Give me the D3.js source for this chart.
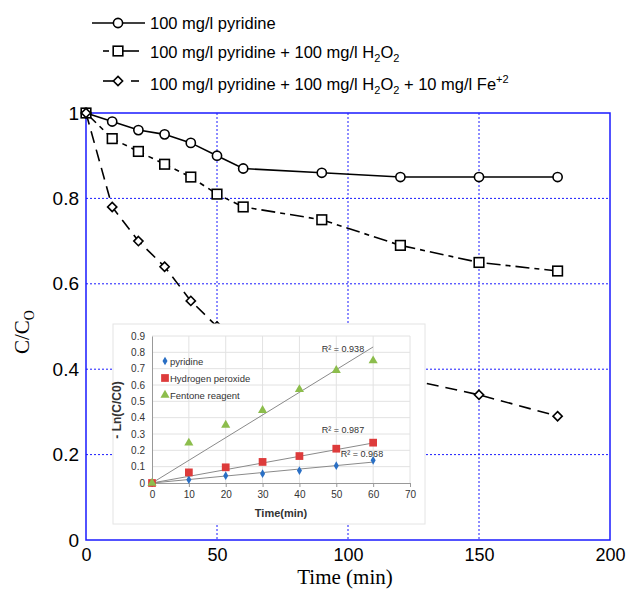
<!DOCTYPE html>
<html>
<head>
<meta charset="utf-8">
<script src="https://cdn.jsdelivr.net/npm/d3@7"></script>
<style>
  body { margin: 0; background: #fff; }
  svg { display: block; }
</style>
</head>
<body>
<div id="chart"></div>
<script>
// main chart data (C/Co vs time)
const times = [0, 10, 20, 30, 40, 50, 60, 90, 120, 150, 180];
const pyridine = [1, 0.98, 0.96, 0.95, 0.93, 0.90, 0.87, 0.86, 0.85, 0.85, 0.85];
const peroxide = [1, 0.94, 0.91, 0.88, 0.85, 0.81, 0.78, 0.75, 0.69, 0.65, 0.63];
const fenton = [1, 0.78, 0.70, 0.64, 0.56, 0.50, 0.47, 0.42, 0.38, 0.34, 0.29];
const xTicks = [0, 50, 100, 150, 200];
const yTicks = [0, 0.2, 0.4, 0.6, 0.8, 1];

// inset data (-ln(C/C0) vs time)
const insetTimes = [0, 10, 20, 30, 40, 50, 60];
const insetPyridine = [0, 0.02, 0.045, 0.057, 0.076, 0.106, 0.139];
const insetPeroxide = [0, 0.065, 0.096, 0.129, 0.165, 0.21, 0.247];
const insetFenton = [0, 0.245, 0.355, 0.445, 0.573, 0.69, 0.749];
const trendEnds = [0.128, 0.245, 0.833];   // fitted lines at t = 60
const r2Labels = ['R² = 0.968', 'R² = 0.987', 'R² = 0.938'];
const insetXTicks = [0, 10, 20, 30, 40, 50, 60, 70];
const insetYTicks = [0, 0.1, 0.2, 0.3, 0.4, 0.5, 0.6, 0.7, 0.8, 0.9];

const width = 631, height = 589;
const blue = '#1a1aff';

const svg = d3.select('#chart').append('svg')
  .attr('width', width)
  .attr('height', height);

const x = d3.scaleLinear().domain([0, 200]).range([86, 610]);
const y = d3.scaleLinear().domain([0, 1]).range([540, 113]);

// grid
svg.append('g').selectAll('line')
  .data(xTicks.slice(1, -1))
  .enter().append('line')
  .attr('x1', d => x(d)).attr('x2', d => x(d))
  .attr('y1', y(1)).attr('y2', y(0))
  .attr('stroke', blue).attr('stroke-width', 1)
  .attr('stroke-dasharray', '2,2');

svg.append('g').selectAll('line')
  .data(yTicks.slice(1, -1))
  .enter().append('line')
  .attr('x1', x(0)).attr('x2', x(200))
  .attr('y1', d => y(d)).attr('y2', d => y(d))
  .attr('stroke', blue).attr('stroke-width', 1)
  .attr('stroke-dasharray', '2,2');

svg.append('rect')
  .attr('x', x(0)).attr('y', y(1))
  .attr('width', x(200) - x(0)).attr('height', y(0) - y(1))
  .attr('fill', 'none').attr('stroke', blue).attr('stroke-width', 1.5);

// axes labels
const xAxis = svg.append('g')
  .attr('transform', `translate(0,${y(0)})`)
  .call(d3.axisBottom(x).tickValues(xTicks).tickSize(0).tickPadding(8).tickFormat(d3.format('d')));
xAxis.select('.domain').remove();
xAxis.selectAll('text')
  .attr('font-family', 'Liberation Sans, Arial, sans-serif')
  .attr('font-size', 18).attr('fill', '#000');

const yAxis = svg.append('g')
  .attr('transform', `translate(${x(0) - 7},0)`)
  .call(d3.axisLeft(y).tickValues(yTicks).tickSize(0).tickPadding(0).tickFormat(d => d3.format('')(+d.toFixed(1))));
yAxis.select('.domain').remove();
yAxis.selectAll('text')
  .attr('font-family', 'Liberation Sans, Arial, sans-serif')
  .attr('font-size', 19).attr('fill', '#000');

svg.append('text')
  .attr('x', 345).attr('y', 584)
  .attr('text-anchor', 'middle')
  .attr('font-family', 'Liberation Serif, Times New Roman, serif')
  .attr('font-size', 21)
  .text('Time (min)');

const yTitle = svg.append('text')
  .attr('transform', 'translate(29,332) rotate(-90)')
  .attr('text-anchor', 'middle')
  .attr('font-family', 'Liberation Serif, Times New Roman, serif')
  .attr('font-size', 21);
yTitle.append('tspan').text('C/C');
yTitle.append('tspan').attr('font-size', 14).attr('dy', 5).text('O');

// series
const series = [
  { values: pyridine, dash: null, marker: 'circle' },
  { values: peroxide, dash: '14,5,5,5', marker: 'square' },
  { values: fenton, dash: '12,7', marker: 'diamond' }
];

const line = d3.line().x(d => x(d[0])).y(d => y(d[1]));

function drawMarker(g, type, cx, cy, s) {
  if (type === 'circle') {
    g.append('circle').attr('cx', cx).attr('cy', cy).attr('r', 4.6 * s)
      .attr('fill', '#fff').attr('stroke', '#000').attr('stroke-width', 1.6);
  } else if (type === 'square') {
    const h = 4.8 * s;
    g.append('rect').attr('x', cx - h).attr('y', cy - h).attr('width', 2 * h).attr('height', 2 * h)
      .attr('fill', '#fff').attr('stroke', '#000').attr('stroke-width', 1.6);
  } else {
    const h = 4.6 * s;
    g.append('path').attr('d', `M${cx},${cy - h}L${cx + h},${cy}L${cx},${cy + h}L${cx - h},${cy}Z`)
      .attr('fill', '#fff').attr('stroke', '#000').attr('stroke-width', 1.6);
  }
}

series.forEach(s => {
  const pts = times.map((t, i) => [t, s.values[i]]);
  svg.append('path')
    .attr('d', line(pts))
    .attr('fill', 'none').attr('stroke', '#000').attr('stroke-width', 1.6)
    .attr('stroke-dasharray', s.dash);
  const g = svg.append('g');
  pts.forEach(p => drawMarker(g, s.marker, x(p[0]), y(p[1]), 1));
});

// legend
const legendItems = [
  { y: 23, marker: 'circle', segs: [[92, 145]] },
  { y: 51, marker: 'square', segs: [[103, 109], [122, 139]] },
  { y: 81, marker: 'diamond', segs: [[103, 113], [131, 139]] }
];
legendItems.forEach(item => {
  item.segs.forEach(sg => {
    svg.append('line').attr('x1', sg[0]).attr('x2', sg[1])
      .attr('y1', item.y).attr('y2', item.y)
      .attr('stroke', '#000').attr('stroke-width', 1.6);
  });
  drawMarker(svg, item.marker, 118, item.y, 1);
});

const legFont = 'Liberation Sans, Arial, sans-serif';
function legendText(yPos) {
  return svg.append('text').attr('x', 150).attr('y', yPos)
    .attr('font-family', legFont).attr('font-size', 16.5);
}
legendText(29).text('100 mg/l pyridine');
let t2 = legendText(58);
t2.append('tspan').text('100 mg/l pyridine + 100 mg/l H');
t2.append('tspan').attr('font-size', 11).attr('dy', 4).text('2');
t2.append('tspan').attr('dy', -4).text('O');
t2.append('tspan').attr('font-size', 11).attr('dy', 4).text('2');
let t3 = legendText(90);
t3.append('tspan').text('100 mg/l pyridine + 100 mg/l H');
t3.append('tspan').attr('font-size', 11).attr('dy', 4).text('2');
t3.append('tspan').attr('dy', -4).text('O');
t3.append('tspan').attr('font-size', 11).attr('dy', 4).text('2');
t3.append('tspan').attr('dy', -4).text(' + 10 mg/l Fe');
t3.append('tspan').attr('font-size', 11).attr('dy', -7).text('+2');

// inset
const inset = svg.append('g');
inset.append('rect')
  .attr('x', 113).attr('y', 324).attr('width', 312).attr('height', 200)
  .attr('fill', '#fff').attr('stroke', '#e4e4e4').attr('stroke-width', 1);

const xi = d3.scaleLinear().domain([0, 70]).range([152, 410]);
const yi = d3.scaleLinear().domain([0, 0.9]).range([483, 336]);
const insetFont = 'Liberation Sans Narrow, Arial Narrow, Liberation Sans, sans-serif';

inset.append('g').selectAll('line')
  .data(insetYTicks.slice(1))
  .enter().append('line')
  .attr('x1', xi(0)).attr('x2', xi(70))
  .attr('y1', d => yi(d)).attr('y2', d => yi(d))
  .attr('stroke', '#e2e2e2').attr('stroke-width', 1);
inset.append('g').selectAll('line')
  .data(insetXTicks.slice(1))
  .enter().append('line')
  .attr('x1', d => xi(d)).attr('x2', d => xi(d))
  .attr('y1', yi(0)).attr('y2', yi(0.9))
  .attr('stroke', '#e2e2e2').attr('stroke-width', 1);

const xiAxis = inset.append('g')
  .attr('transform', `translate(0,${yi(0)})`)
  .call(d3.axisBottom(xi).tickValues(insetXTicks).tickSize(4).tickPadding(4));
xiAxis.select('.domain').attr('stroke', '#999');
xiAxis.selectAll('line').attr('stroke', '#999');
xiAxis.selectAll('text').attr('font-family', insetFont).attr('font-size', 10).attr('fill', '#333');

const yiAxis = inset.append('g')
  .attr('transform', `translate(${xi(0)},0)`)
  .call(d3.axisLeft(yi).tickValues(insetYTicks).tickSize(0).tickPadding(7)
    .tickFormat(d => d3.format('')(+d.toFixed(1))));
yiAxis.select('.domain').attr('stroke', '#999');
yiAxis.selectAll('text').attr('font-family', insetFont).attr('font-size', 10).attr('fill', '#333');

inset.append('text')
  .attr('x', 281).attr('y', 517)
  .attr('text-anchor', 'middle')
  .attr('font-family', insetFont).attr('font-weight', 'bold')
  .attr('font-size', 11).attr('fill', '#333')
  .text('Time(min)');
inset.append('text')
  .attr('transform', 'translate(121,410) rotate(-90)')
  .attr('text-anchor', 'middle')
  .attr('font-family', insetFont).attr('font-weight', 'bold')
  .attr('font-size', 12).attr('fill', '#333')
  .text('- Ln(C/C0)');

const insetSeries = [
  { values: insetPyridine, color: '#2a6fc4', sym: d3.symbolDiamond, size: 22, name: 'pyridine' },
  { values: insetPeroxide, color: '#dd3b3b', sym: d3.symbolSquare, size: 60, name: 'Hydrogen peroxide' },
  { values: insetFenton, color: '#8cbd4c', sym: d3.symbolTriangle, size: 36, name: 'Fentone reagent' }
];

// trend lines
insetSeries.forEach((s, i) => {
  inset.append('line')
    .attr('x1', xi(0)).attr('y1', yi(0))
    .attr('x2', xi(60)).attr('y2', yi(trendEnds[i]))
    .attr('stroke', '#8a8a8a').attr('stroke-width', 1);
});

insetSeries.forEach(s => {
  inset.append('g').selectAll('path')
    .data(insetTimes.map((t, i) => [t, s.values[i]]))
    .enter().append('path')
    .attr('d', d3.symbol().type(s.sym).size(s.size))
    .attr('transform', d => `translate(${xi(d[0])},${yi(d[1])})`)
    .attr('fill', s.color);
});

// R² labels
const r2Pos = [[362, 457], [343, 433], [343, 352]];
r2Labels.forEach((lbl, i) => {
  inset.append('text')
    .attr('x', r2Pos[i][0]).attr('y', r2Pos[i][1])
    .attr('text-anchor', 'middle')
    .attr('font-family', insetFont).attr('font-size', 9).attr('fill', '#333')
    .text(lbl);
});

// inset legend
insetSeries.forEach((s, i) => {
  const ly = 361 + i * 17;
  inset.append('path')
    .attr('d', d3.symbol().type(s.sym).size(s.size))
    .attr('transform', `translate(165,${ly})`)
    .attr('fill', s.color);
  inset.append('text')
    .attr('x', 170).attr('y', ly + 3.5)
    .attr('font-family', insetFont).attr('font-size', 9.5).attr('fill', '#333')
    .text(s.name);
});
</script>
</body>
</html>
